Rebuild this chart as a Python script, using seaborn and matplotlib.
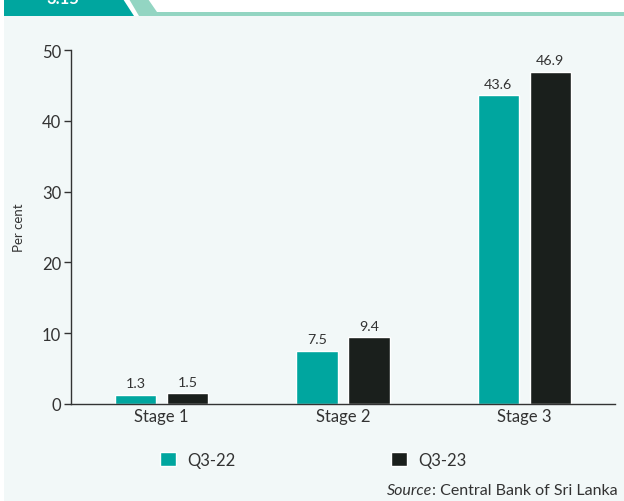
import matplotlib
matplotlib.use("Agg")
import matplotlib.pyplot as plt
from matplotlib.patches import Polygon, Rectangle
import seaborn as sns
import pandas as pd

stages = ["Stage 1", "Stage 2", "Stage 3"]
q3_22 = [1.3, 7.5, 43.6]
q3_23 = [1.5, 9.4, 46.9]
series_names = ["Q3-22", "Q3-23"]
yticks = [0, 10, 20, 30, 40, 50]

df = pd.DataFrame({
    "Stage": stages * 2,
    "Value": q3_22 + q3_23,
    "Period": [series_names[0]] * 3 + [series_names[1]] * 3,
})

sns.set_theme(style="white")
plt.rcParams["font.family"] = ["Lato", "DejaVu Sans"]

TEAL = "#00A69F"
DARK = "#1A1F1C"
BG = "#F2F8F8"
GREEN = "#93D5C2"
TXT = "#333333"

fig = plt.figure(figsize=(6.24, 5.02), dpi=100)
fig.patch.set_facecolor("white")
W, H = 624, 502

def fx(x):
    return x / W

def fy(y):
    return 1 - y / H

# panel background
fig.patches.append(Rectangle((fx(4), 0), 1 - fx(4), fy(17), transform=fig.transFigure,
                             facecolor=BG, edgecolor="none", zorder=0))
# header band
fig.patches.append(Polygon([(fx(129), fy(0)), (fx(148), fy(0)), (fx(157), fy(13)), (1, fy(13)),
                            (1, fy(17)), (fx(139), fy(17))], closed=True,
                           transform=fig.transFigure, facecolor=GREEN, edgecolor="none", zorder=1))
fig.patches.append(Polygon([(fx(4), fy(0)), (fx(123), fy(0)), (fx(134), fy(17)), (fx(4), fy(17))],
                           closed=True, transform=fig.transFigure, facecolor=TEAL,
                           edgecolor="none", zorder=2))
fig.text(fx(63), fy(4), "3.15", color="white", fontsize=12, fontweight="bold",
         ha="center", va="baseline", zorder=3)

ax = fig.add_axes([fx(71), fy(405), fx(615) - fx(71), fy(51) - fy(405)])
ax.set_zorder(10)
ax.set_facecolor("none")
ax.patch.set_alpha(0)

sns.barplot(data=df, x="Stage", y="Value", hue="Period", order=stages,
            hue_order=series_names, palette=[TEAL, DARK], width=0.575, gap=0.21,
            saturation=1, ax=ax, legend=True, errorbar=None)

for cont in ax.containers:
    ax.bar_label(cont, fmt="%.1f", padding=4, fontsize=10.3, color=TXT)

ax.set_ylim(0, 50)
ax.set_xlim(-0.5, 2.5)
ax.set_yticks(yticks)
ax.set_xlabel("")
ax.set_ylabel("Per cent", fontsize=9.5, color=TXT, labelpad=12)
for s in ["top", "right"]:
    ax.spines[s].set_visible(False)
for s in ["left", "bottom"]:
    ax.spines[s].set_color(TXT)
    ax.spines[s].set_linewidth(1.0)
ax.tick_params(axis="y", which="major", direction="out", length=5, width=1, color=TXT,
               labelsize=12, labelcolor=TXT, pad=2, left=True)
ax.tick_params(axis="x", length=0, labelsize=12, labelcolor=TXT, pad=3)

handles, labels = ax.get_legend_handles_labels()
ax.get_legend().remove()
fig.legend(handles, labels, loc="center left", bbox_to_anchor=(fx(145), fy(461)),
           ncol=2, frameon=False, fontsize=12, handlelength=0.95, handleheight=0.95,
           handletextpad=0.7, columnspacing=9.3, labelcolor=TXT)

t1 = fig.text(fx(618), fy(491), ": Central Bank of Sri Lanka", ha="right", va="center",
              fontsize=11.5, color=TXT)
fig.canvas.draw()
bb = t1.get_window_extent()
x0 = fig.transFigure.inverted().transform((bb.x0, bb.y0))[0]
fig.text(x0, fy(491), "Source", ha="right", va="center", fontsize=11.5, color=TXT,
         style="italic")

fig.savefig("out.png", dpi=100, facecolor=fig.get_facecolor())
